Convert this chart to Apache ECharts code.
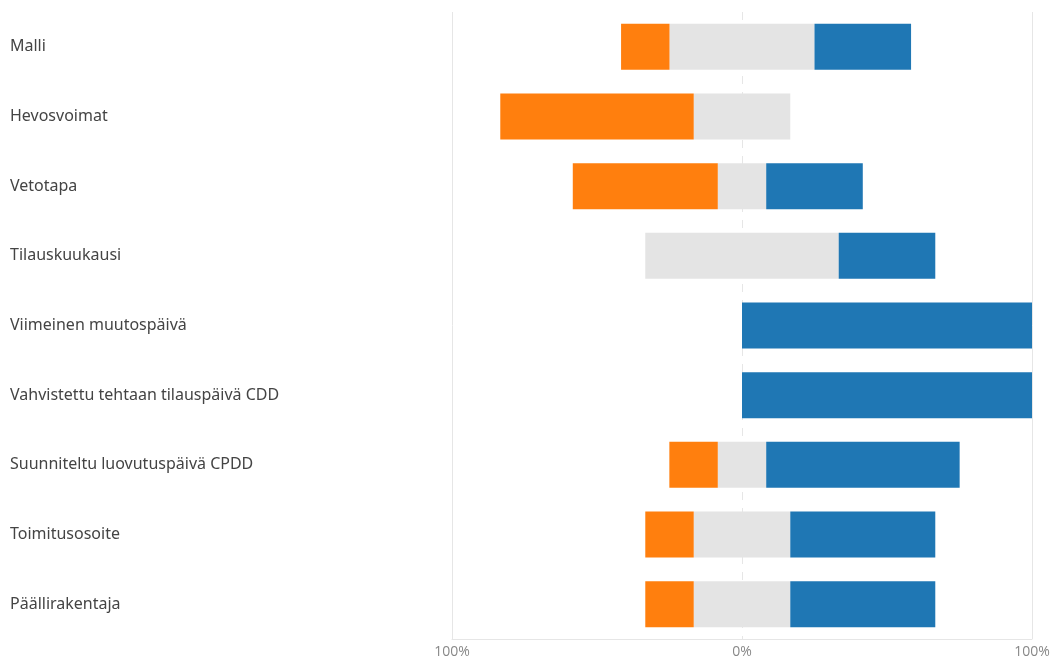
<!DOCTYPE html>
<html>
<head>
<meta charset="utf-8">
<script src="https://cdn.jsdelivr.net/npm/echarts@6/dist/echarts.min.js"></script>
<style>html,body{margin:0;padding:0;background:#fff}#c{width:1060px;height:659px}</style>
</head>
<body>
<div id="c"></div>
<script>
const categories = ["Malli","Hevosvoimat","Vetotapa","Tilauskuukausi","Viimeinen muutospäivä","Vahvistettu tehtaan tilauspäivä CDD","Suunniteltu luovutuspäivä CPDD","Toimitusosoite","Päällirakentaja"];
const negativeShare = [16.7, 66.7, 50, 0, 0, 0, 16.7, 16.7, 16.7];
const neutralShare  = [50, 33.3, 16.7, 66.7, 0, 0, 16.7, 33.3, 33.3];
const positiveShare = [33.3, 0, 33.3, 33.3, 100, 100, 66.7, 50, 50];
const tickLabels = {"-100":"100%","0":"0%","100":"100%"};

const cats = categories.slice().reverse();
const rev = a => a.slice().reverse();
const nz = v => (v === 0 ? null : v);
const neg = rev(negativeShare).map(v => nz(-v));
const neuL = rev(neutralShare).map(v => nz(-v/2));
const neuR = rev(neutralShare).map(v => nz(v/2));
const pos = rev(positiveShare).map(nz);

const bw = 46;
const chart = echarts.init(document.getElementById('c'), null, {renderer:'canvas'});
chart.setOption({
  animation:false,
  grid:{left:452,right:28,top:12,bottom:20,containLabel:false},
  xAxis:{type:'value',min:-100,max:100,interval:100,
    axisLine:{show:true,lineStyle:{color:'#e6e6e6'}},
    axisTick:{show:false},
    splitLine:{show:true,lineStyle:{color:['#e6e6e6','#e6e6e6','#e6e6e6'],type:[8,8],width:1}},
    axisLabel:{color:'#888',fontFamily:'Open Sans',fontSize:14,margin:6,
      formatter:v=>tickLabels[String(v)]||''}},
  yAxis:{type:'category',data:cats,
    axisLine:{show:false},axisTick:{show:false},
    axisLabel:{align:'left',margin:442,color:'#444',fontFamily:'Noto Sans',fontSize:16,padding:[3,0,0,0]}},
  series:[
    {type:'line',name:'frame',data:[],z:0,silent:true,
      markLine:{symbol:'none',silent:true,label:{show:false},
        data:[
          {xAxis:-100,lineStyle:{color:'#e6e6e6',type:'solid',width:1}},
          {xAxis:100,lineStyle:{color:'#e6e6e6',type:'solid',width:1}}
        ]}},
    {type:'bar',name:'neutralL',stack:'s',data:neuL,barWidth:bw,itemStyle:{color:'#e4e4e4'},z:2},
    {type:'bar',name:'neg',stack:'s',data:neg,barWidth:bw,itemStyle:{color:'#ff7f0e'},z:2},
    {type:'bar',name:'neutralR',stack:'s',data:neuR,barWidth:bw,itemStyle:{color:'#e4e4e4'},z:2},
    {type:'bar',name:'pos',stack:'s',data:pos,barWidth:bw,itemStyle:{color:'#1f77b4'},z:2}
  ]
});
</script>
</body>
</html>
